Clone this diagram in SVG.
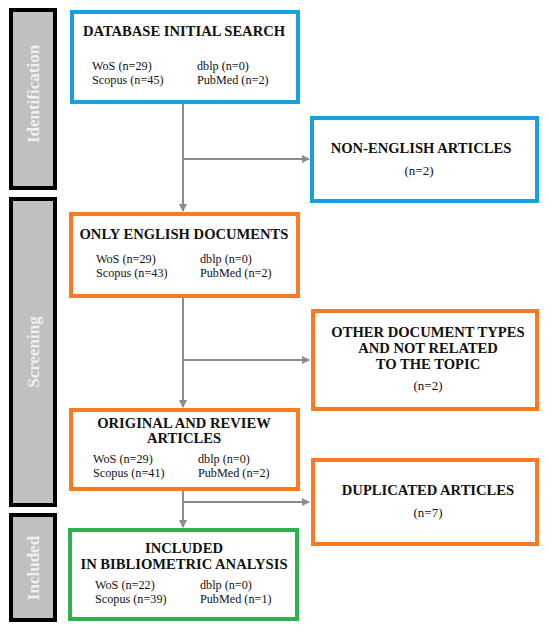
<svg xmlns="http://www.w3.org/2000/svg" width="550" height="631" viewBox="0 0 550 631">
<style>
.bar{fill:#c0c0c0;stroke:#000;stroke-width:4}
.bl{fill:#fff;stroke:#16a0e0;stroke-width:4}
.or{fill:#fff;stroke:#f97a1f;stroke-width:4}
.gr{fill:#fff;stroke:#2bb24c;stroke-width:4}
.side{font-family:"Liberation Serif",serif;font-weight:bold;font-size:17px;fill:#f0f0f0;text-anchor:middle}
.t{font-family:"Liberation Serif",serif;font-weight:bold;font-size:14.6px;fill:#111;text-anchor:middle}
.d{font-family:"Liberation Serif",serif;font-size:12.2px;fill:#111}
.n{font-family:"Liberation Serif",serif;font-size:13px;fill:#111;text-anchor:middle}
.c{stroke:#8c8c8c;stroke-width:2;fill:none}
</style>
<defs>
<marker id="ah" markerWidth="8" markerHeight="8" refX="7" refY="4" orient="auto" markerUnits="userSpaceOnUse">
<path d="M0,0 L8,4 L0,8 Z" fill="#8c8c8c"/>
</marker>
</defs>
<g id="phase-identification">
<rect class="bar" x="11" y="10" width="44" height="178"/>
<text class="side" transform="translate(39,94) rotate(-90)">Identification</text>
</g>
<g id="phase-screening">
<rect class="bar" x="11" y="199" width="44" height="306"/>
<text class="side" transform="translate(39,352) rotate(-90)">Screening</text>
</g>
<g id="phase-included">
<rect class="bar" x="11" y="515" width="44" height="105"/>
<text class="side" transform="translate(39,568) rotate(-90)">Included</text>
</g>
<g id="connectors">
<line class="c" x1="183" y1="104" x2="183" y2="211" marker-end="url(#ah)"/>
<line class="c" x1="183" y1="159" x2="309" y2="159" marker-end="url(#ah)"/>
<line class="c" x1="183" y1="298" x2="183" y2="407" marker-end="url(#ah)"/>
<line class="c" x1="183" y1="360" x2="309" y2="360" marker-end="url(#ah)"/>
<line class="c" x1="183" y1="491" x2="183" y2="527" marker-end="url(#ah)"/>
<line class="c" x1="183" y1="502" x2="309" y2="502" marker-end="url(#ah)"/>
</g>
<g id="database-initial-search">
<rect class="bl" x="72" y="12" width="226" height="90"/>
<text class="t" x="184" y="36">DATABASE INITIAL SEARCH</text>
<text class="d" x="92" y="69.5">WoS (n=29)</text>
<text class="d" x="197" y="69.5">dblp (n=0)</text>
<text class="d" x="92" y="83.5">Scopus (n=45)</text>
<text class="d" x="197" y="83.5">PubMed (n=2)</text>
</g>
<g id="non-english-articles">
<rect class="bl" x="312" y="118" width="225" height="83"/>
<text class="t" x="421" y="153">NON-ENGLISH ARTICLES</text>
<text class="n" x="419" y="175">(n=2)</text>
</g>
<g id="only-english-documents">
<rect class="or" x="71" y="214" width="227" height="82"/>
<text class="t" x="184" y="239">ONLY ENGLISH DOCUMENTS</text>
<text class="d" x="96" y="262.5">WoS (n=29)</text>
<text class="d" x="200" y="262.5">dblp (n=0)</text>
<text class="d" x="96" y="276.5">Scopus (n=43)</text>
<text class="d" x="200" y="276.5">PubMed (n=2)</text>
</g>
<g id="other-document-types">
<rect class="or" x="313" y="311" width="224" height="98"/>
<text class="t" x="428" y="337">OTHER DOCUMENT TYPES</text>
<text class="t" x="428" y="353">AND NOT RELATED</text>
<text class="t" x="428" y="369">TO THE TOPIC</text>
<text class="n" x="428" y="390">(n=2)</text>
</g>
<g id="original-and-review-articles">
<rect class="or" x="71" y="410" width="227" height="79"/>
<text class="t" x="184" y="428">ORIGINAL AND REVIEW</text>
<text class="t" x="184" y="443">ARTICLES</text>
<text class="d" x="93" y="462.5">WoS (n=29)</text>
<text class="d" x="198" y="462.5">dblp (n=0)</text>
<text class="d" x="93" y="476.5">Scopus (n=41)</text>
<text class="d" x="198" y="476.5">PubMed (n=2)</text>
</g>
<g id="duplicated-articles">
<rect class="or" x="313" y="460" width="224" height="84"/>
<text class="t" x="428" y="495">DUPLICATED ARTICLES</text>
<text class="n" x="428" y="517">(n=7)</text>
</g>
<g id="included">
<rect class="gr" x="70" y="530" width="227" height="89"/>
<text class="t" x="184" y="553">INCLUDED</text>
<text class="t" x="184" y="569">IN BIBLIOMETRIC ANALYSIS</text>
<text class="d" x="95" y="589">WoS (n=22)</text>
<text class="d" x="200" y="589">dblp (n=0)</text>
<text class="d" x="95" y="603">Scopus (n=39)</text>
<text class="d" x="200" y="603">PubMed (n=1)</text>
</g>
</svg>
